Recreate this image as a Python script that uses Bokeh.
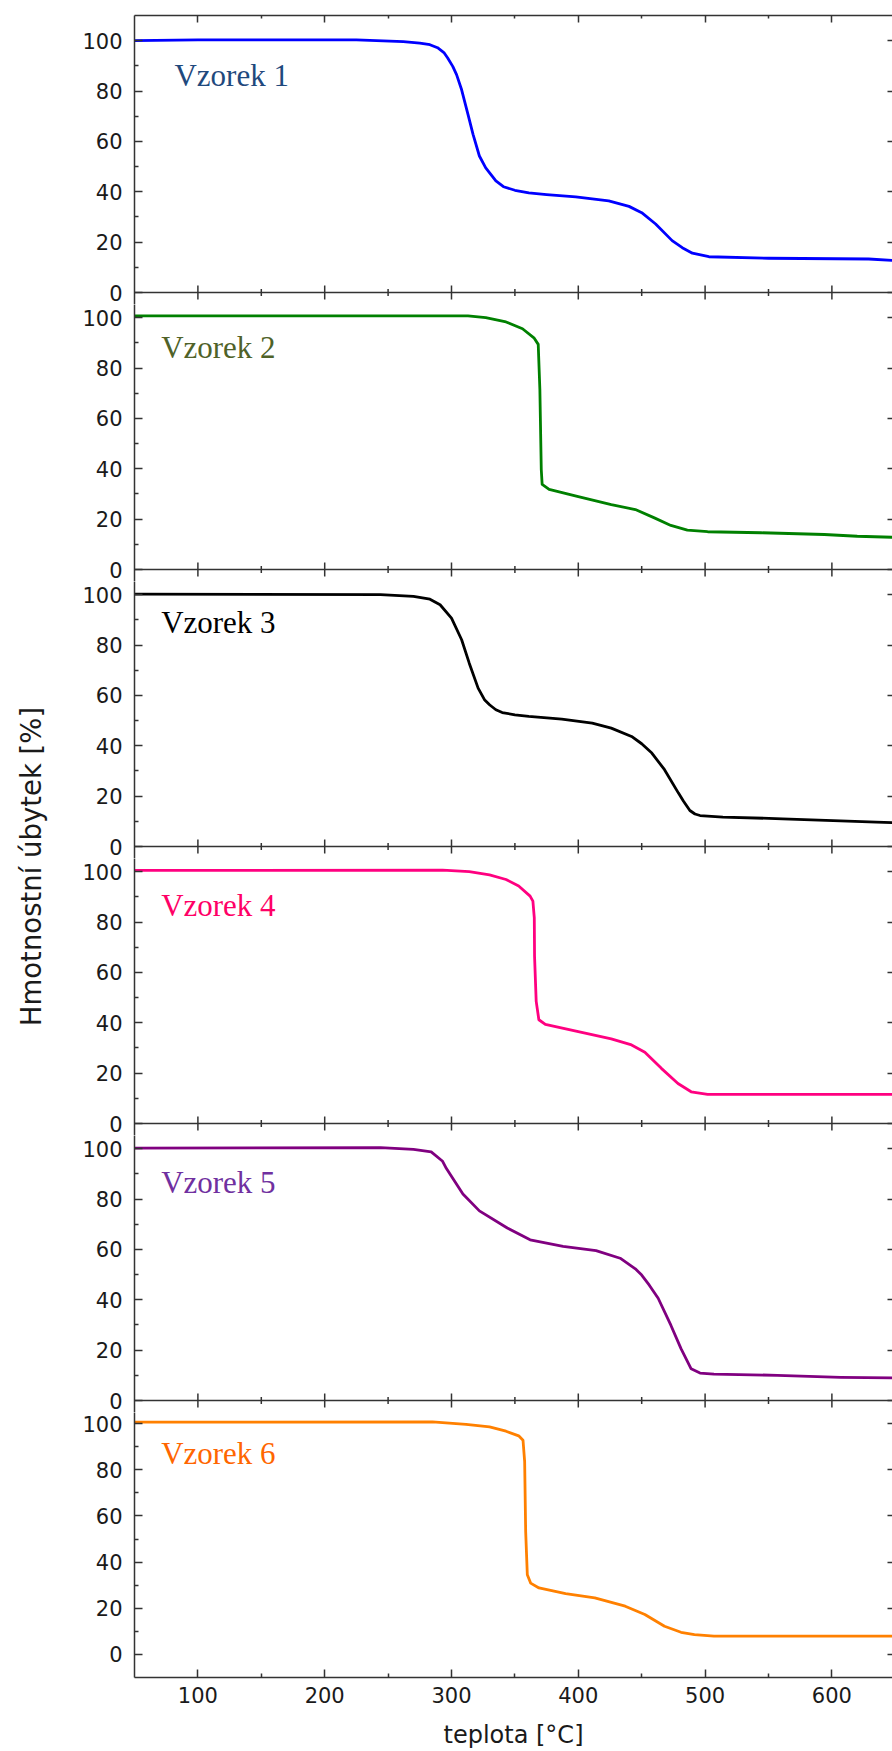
import math
from bokeh.plotting import figure
from bokeh.models import Range1d, LinearAxis, FixedTicker, Label, Span
from bokeh.layouts import column, row
from bokeh.embed import file_html
from bokeh.resources import INLINE

# ---------------- data ----------------
temp_1 = [50, 100, 225, 262, 275, 283, 289, 294, 297, 301, 304, 308, 313, 317,
          322, 327, 335, 341, 350, 361, 375, 398, 424, 440, 450, 461, 474, 482,
          490, 503, 550, 629, 648]
mass_1 = [100.0, 100.3, 100.3, 99.6, 99.0, 98.4, 97.2, 95.3, 93.1, 89.8, 86.5,
          80.5, 70.7, 62.8, 54.2, 49.5, 44.3, 42.0, 40.6, 39.6, 38.9, 38.0,
          36.4, 34.2, 31.7, 27.2, 20.6, 17.8, 15.6, 14.2, 13.6, 13.3, 12.7]

temp_2 = [50, 244, 313, 327, 343, 356, 365, 368.4, 369.7, 370.8, 371.5, 377,
          400, 426, 445, 460, 473, 486, 502, 544, 594, 620, 648]
mass_2 = [100.7, 100.7, 100.7, 100.0, 98.3, 95.6, 92.0, 89.4, 71.5, 39.7, 33.8,
          31.8, 28.9, 25.8, 23.8, 20.5, 17.5, 15.6, 15.0, 14.6, 13.9, 13.2, 12.8]

temp_3 = [50, 244, 270, 283, 291, 300, 308, 314, 321, 326, 330, 335, 340, 350,
          361, 387, 411, 426, 442, 450, 458, 468, 479, 483, 488, 492, 496, 514,
          561, 601, 635, 648]
mass_3 = [100.2, 100.0, 99.3, 98.2, 96.0, 90.7, 82.1, 72.8, 62.9, 58.3, 56.3,
          54.3, 53.2, 52.3, 51.7, 50.6, 49.0, 47.0, 43.7, 40.8, 37.1, 30.5,
          21.2, 18.0, 14.3, 12.9, 12.3, 11.7, 11.0, 10.3, 9.7, 9.5]

temp_4 = [50, 293, 314, 330, 343, 353, 362, 364.2, 365.3, 365.5, 366.8, 368.9,
          374, 400, 426, 442, 452.5, 465.5, 478.6, 489, 502, 648]
mass_4 = [100.5, 100.6, 100.0, 98.7, 96.9, 94.3, 90.3, 88.3, 81.7, 66.4, 48.5,
          41.2, 39.4, 36.5, 33.6, 31.2, 28.3, 21.9, 15.9, 12.6, 11.6, 11.6]

temp_5 = [50, 244, 270, 284, 293, 296, 309, 322, 344, 362, 388, 414, 433, 445,
          450, 456, 463, 473, 481, 489, 496, 507, 557, 607, 648]
mass_5 = [100.2, 100.4, 99.7, 98.7, 95.0, 92.1, 82.0, 75.3, 68.5, 63.8, 61.2,
          59.5, 56.5, 52.3, 49.8, 45.8, 40.6, 29.9, 20.6, 12.6, 10.9, 10.5,
          10.0, 9.2, 9.0]

temp_6 = [50, 285, 311.5, 330, 343, 353, 356.4, 357.7, 358.5, 359.8, 362.4,
          369, 390, 413, 437, 452.5, 468, 481, 491.6, 507, 648]
mass_6 = [100.6, 100.7, 99.7, 98.6, 96.7, 94.7, 92.8, 83.5, 53.2, 34.5, 30.9,
          28.8, 26.3, 24.5, 20.9, 17.3, 12.2, 9.6, 8.6, 7.9, 7.9]

temps = [temp_1, temp_2, temp_3, temp_4, temp_5, temp_6]
masses = [mass_1, mass_2, mass_3, mass_4, mass_5, mass_6]

sample_names = ["Vzorek 1", "Vzorek 2", "Vzorek 3", "Vzorek 4", "Vzorek 5", "Vzorek 6"]
line_colors = ["#0000ff", "#008000", "#000000", "#ff0080", "#800080", "#ff8000"]
name_colors = ["#1f497d", "#4f6228", "#000000", "#ff0066", "#7030a0", "#ff6600"]
name_x = [81.5, 71, 71, 71, 71, 71]
name_y = [86.0, 88.0, 89.0, 86.6, 86.5, 87.0]

x_ticks = [100, 200, 300, 400, 500, 600]
x_minor_ticks = [150, 250, 350, 450, 550]
y_ticks = [0, 20, 40, 60, 80, 100]
y_minor_ticks = [10, 30, 50, 70, 90]

x_label = "teplota [°C]"
y_label = "Hmotnostní úbytek [%]"

# ---------------- layout / styling ----------------
AX = "#333333"
TXT = "#1a1a1a"
X_START, X_END = 50, 647.8
Y_TOP = 110          # top of every panel (data units)
Y_BOT_LAST = -10     # bottom of the last panel
BAND = 277           # height in px between two panel separator lines
EXT = 12             # extra frame below the zero line (room for the "0" label)
TOP_PAD = 15
LEFT_W = 68          # width of the column holding the y title
BORDER_L = 66
FRAME_W = 758
BOTTOM_AX = 74
LINE_W = 2.8


def style_axis(ax, tick_in, minor_in, with_minor=True, line=True):
    ax.major_tick_in = tick_in
    ax.major_tick_out = 0
    ax.minor_tick_in = minor_in
    ax.minor_tick_out = 0
    ax.axis_line_color = AX if line else None
    ax.axis_line_width = 1.5
    ax.major_tick_line_color = AX
    ax.major_tick_line_width = 1.5
    ax.minor_tick_line_color = AX if with_minor else None
    ax.minor_tick_line_width = 1.5


def hide_labels(ax):
    ax.major_label_text_color = None
    ax.major_label_standoff = 0


panels = []
for i in range(6):
    first, last = (i == 0), (i == 5)
    if last:
        upp = BAND / (Y_TOP - Y_BOT_LAST)          # px per unit
        frame_h = BAND - EXT
        y_rng = Range1d(Y_BOT_LAST, Y_TOP - EXT / upp)
    else:
        upp = BAND / Y_TOP
        frame_h = BAND + EXT if first else BAND
        y_rng = Range1d(-EXT / upp, Y_TOP if first else Y_TOP - EXT / upp)

    height = frame_h + (TOP_PAD if first else 0) + (BOTTOM_AX if last else 0)
    p = figure(width=BORDER_L + FRAME_W, height=height,
               x_range=Range1d(X_START, X_END), y_range=y_rng,
               x_axis_type=None, y_axis_type=None,
               output_backend="svg", toolbar_location=None,
               min_border_left=BORDER_L, min_border_right=0,
               min_border_top=TOP_PAD if first else 0,
               min_border_bottom=BOTTOM_AX if last else 0)
    p.outline_line_color = None
    p.background_fill_color = "white"
    p.border_fill_color = "white"

    # left axis
    la = LinearAxis(ticker=FixedTicker(ticks=y_ticks, minor_ticks=y_minor_ticks))
    style_axis(la, 8, 4)
    la.major_label_standoff = 12
    la.major_label_text_font = "DejaVu Sans"
    la.major_label_text_font_size = "21px"
    la.major_label_text_color = TXT
    p.add_layout(la, "left")

    # right axis (ticks only)
    ra = LinearAxis(ticker=FixedTicker(ticks=y_ticks, minor_ticks=[]))
    style_axis(ra, 5, 0, with_minor=False, line=False)
    hide_labels(ra)
    p.add_layout(ra, "right")

    if first:
        ta = LinearAxis(ticker=FixedTicker(ticks=x_ticks, minor_ticks=x_minor_ticks))
        style_axis(ta, 7, 3)
        hide_labels(ta)
        p.add_layout(ta, "above")

    if last:
        ba = LinearAxis(ticker=FixedTicker(ticks=x_ticks, minor_ticks=x_minor_ticks))
        style_axis(ba, 8, 4)
        ba.major_label_standoff = 9
        ba.major_label_text_font = "DejaVu Sans"
        ba.major_label_text_font_size = "21px"
        ba.major_label_text_color = TXT
        ba.axis_label = x_label
        ba.axis_label_text_font = "DejaVu Sans"
        ba.axis_label_text_font_size = "24px"
        ba.axis_label_text_font_style = "normal"
        ba.axis_label_text_color = TXT
        ba.axis_label_standoff = 15
        p.add_layout(ba, "below")
    else:
        # separator between this panel and the next: zero line with crossing ticks
        p.add_layout(Span(location=0, dimension="width", line_color=AX,
                          line_width=1.5))
        p.scatter(x_ticks, [0] * len(x_ticks), marker="dash", size=14,
                  angle=math.pi / 2, line_color=AX, line_width=1.5)
        p.scatter(x_minor_ticks, [0] * len(x_minor_ticks), marker="dash", size=7,
                  angle=math.pi / 2, line_color=AX, line_width=1.5)

    p.line(temps[i], masses[i], line_color=line_colors[i], line_width=LINE_W,
           line_join="round")

    p.add_layout(Label(x=name_x[i], y=name_y[i], text=sample_names[i],
                       text_font="Liberation Serif", text_font_size="31px",
                       text_color=name_colors[i], text_align="left",
                       text_baseline="alphabetic"))
    panels.append(p)

# y-axis title column
LAB_H = sum(pp.height for pp in panels)
lab = figure(width=LEFT_W, height=LAB_H, x_range=Range1d(0, LEFT_W),
             y_range=Range1d(LAB_H, 0), x_axis_type=None, y_axis_type=None,
             output_backend="svg", toolbar_location=None, min_border=0)
lab.outline_line_color = None
lab.background_fill_color = "white"
lab.border_fill_color = "white"
lab.add_layout(Label(x=30.5, y=866, text=y_label, angle=math.pi / 2,
                     text_font="DejaVu Sans", text_font_size="27.5px",
                     text_color=TXT, text_align="center",
                     text_baseline="middle"))

layout = row(lab, column(*panels, spacing=0), spacing=0)

open("out.html", "w").write(file_html(layout, INLINE))
